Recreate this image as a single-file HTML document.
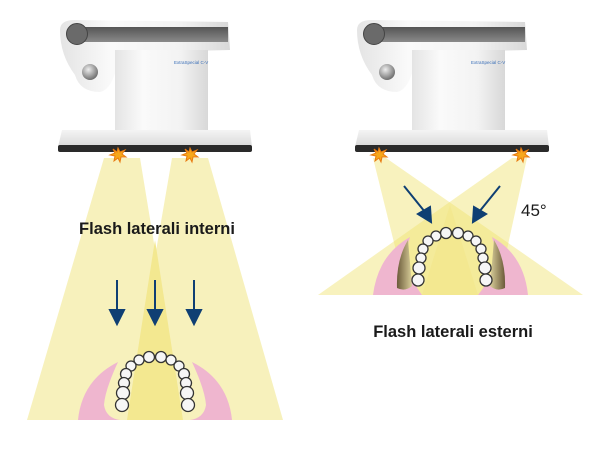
<!DOCTYPE html>
<html><head><meta charset="utf-8"><style>
body{margin:0;background:#fff;width:605px;height:469px;overflow:hidden}
svg{display:block}
text{font-family:"Liberation Sans",Arial,sans-serif}
</style></head><body>
<svg width="605" height="469" viewBox="0 0 605 469" xmlns="http://www.w3.org/2000/svg">
<defs>
<linearGradient id="bod" x1="0" x2="1"><stop offset="0" stop-color="#e4e4e4"/><stop offset=".3" stop-color="#fafafa"/><stop offset=".7" stop-color="#f3f3f3"/><stop offset="1" stop-color="#d8d8d8"/></linearGradient>
<linearGradient id="bar" x1="0" y1="0" x2="0" y2="1"><stop offset="0" stop-color="#555"/><stop offset="1" stop-color="#8a8a8a"/></linearGradient>
<linearGradient id="base" x1="0" y1="0" x2="0" y2="1"><stop offset="0" stop-color="#f4f4f4"/><stop offset="1" stop-color="#d9d9d9"/></linearGradient>
<radialGradient id="ball" cx=".4" cy=".35" r=".7"><stop offset="0" stop-color="#eee"/><stop offset="1" stop-color="#666"/></radialGradient>
<linearGradient id="brL" x1="0" x2="1"><stop offset="0" stop-color="#6b5a3a"/><stop offset="1" stop-color="#d9cf9a"/></linearGradient>
<linearGradient id="brR" x1="1" x2="0"><stop offset="0" stop-color="#6b5a3a"/><stop offset="1" stop-color="#d9cf9a"/></linearGradient>
<g id="dev">
<path d="M60,30 Q60,20 75,20 L228,22 L230,50 L148,52 Q138,52 138,62 L118,62 Q112,90 100,92 Q80,92 75,75 Q60,55 60,30Z" fill="url(#bod)"/>
<rect x="115" y="50" width="93" height="82" fill="url(#bod)"/>
<rect x="80" y="27" width="148" height="15" fill="url(#bar)"/>
<circle cx="77" cy="34" r="10.5" fill="#6a6a6a" stroke="#444"/>
<circle cx="90" cy="72" r="8" fill="url(#ball)"/>
<text x="174" y="64" font-size="4.5" fill="#3a6fb8">ExtraSpecial C-V</text>
<path d="M62,130 L250,130 L252,147 L58,147 Z" fill="url(#base)"/>
<rect x="58" y="145" width="194" height="7" rx="2" fill="#2a2a2a"/>
</g>
<g id="tooth"><circle r="6" fill="#f4f4f4" stroke="#333" stroke-width="1.3"/></g>
</defs>

<!-- LEFT beams -->
<polygon points="104,158 140,158 183,420 27,420" fill="#f7f1bc"/>
<polygon points="172,158 208,158 283,420 127,420" fill="#f7f1bc"/>
<!-- pink left -->
<path d="M78,420 Q82,380 118,362 Q105,390 104,405 Q106,418 120,420Z" fill="#efb6cf"/>
<path d="M232,420 Q228,380 192,362 Q205,390 206,405 Q204,418 190,420Z" fill="#efb6cf"/>
<polygon points="155,240 183,420 127,420" fill="#f3e890"/>
<!-- left teeth -->
<g fill="#f6f6f6" stroke="#333" stroke-width="1.3">
<circle cx="149" cy="357" r="5.5"/><circle cx="161" cy="357" r="5.5"/>
<circle cx="139" cy="360" r="5"/><circle cx="171" cy="360" r="5"/>
<circle cx="131" cy="366" r="5"/><circle cx="179" cy="366" r="5"/>
<circle cx="126" cy="374" r="5.5"/><circle cx="184" cy="374" r="5.5"/>
<circle cx="124" cy="383" r="5.5"/><circle cx="186" cy="383" r="5.5"/>
<circle cx="123" cy="393" r="6.5"/><circle cx="187" cy="393" r="6.5"/>
<circle cx="122" cy="405" r="6.5"/><circle cx="188" cy="405" r="6.5"/>
</g>
<!-- left arrows -->
<g stroke="#0f3f73" stroke-width="2" fill="#0f3f73">
<line x1="117" y1="280" x2="117" y2="315"/><polygon points="110,310 124,310 117,324"/>
<line x1="155" y1="280" x2="155" y2="315"/><polygon points="148,310 162,310 155,324"/>
<line x1="194" y1="280" x2="194" y2="315"/><polygon points="187,310 201,310 194,324"/>
</g>

<!-- RIGHT beams -->
<polygon points="373,158 386,158 583,295 407,295" fill="#f0e26f" opacity=".45"/>
<polygon points="512,158 527,158 497,295 318,295" fill="#f0e26f" opacity=".45"/>
<path d="M373,295 Q378,255 410,237 Q400,265 422,295Z" fill="#efb6cf"/>
<path d="M528,295 Q524,255 492,237 Q502,265 478,295Z" fill="#efb6cf"/>
<path d="M408,240 Q396,260 397,288 Q405,292 412,286 Z" fill="url(#brL)"/>
<path d="M494,240 Q506,260 505,288 Q497,292 490,286 Z" fill="url(#brR)"/>
<polygon points="450,205 478,295 422,295" fill="#f3e890"/>
<g fill="#f6f6f6" stroke="#333" stroke-width="1.3">
<circle cx="446" cy="233" r="5.5"/><circle cx="458" cy="233" r="5.5"/>
<circle cx="436" cy="236" r="5"/><circle cx="468" cy="236" r="5"/>
<circle cx="428" cy="241" r="5"/><circle cx="476" cy="241" r="5"/>
<circle cx="423" cy="249" r="5"/><circle cx="481" cy="249" r="5"/>
<circle cx="421" cy="258" r="5"/><circle cx="483" cy="258" r="5"/>
<circle cx="419" cy="268" r="6"/><circle cx="485" cy="268" r="6"/>
<circle cx="418" cy="280" r="6"/><circle cx="486" cy="280" r="6"/>
</g>
<g stroke="#0f3f73" stroke-width="2" fill="#0f3f73">
<line x1="404" y1="186" x2="425" y2="212"/><polygon points="418,214 430,207 431,222"/>
<line x1="500" y1="186" x2="479" y2="212"/><polygon points="486,214 474,207 473,222"/>
</g>

<!-- devices -->
<use href="#dev"/>
<use href="#dev" x="297"/>
<!-- flashes -->
<g fill="#f7a81b" stroke="#e87a10" stroke-width="1">
<polygon points="118,148 120,152 125,150 122,154 126,157 121,157 120,162 118,158 114,161 115,156 110,155 115,153 113,149 117,152"/>
<polygon points="190,148 192,152 197,150 194,154 198,157 193,157 192,162 190,158 186,161 187,156 182,155 187,153 185,149 189,152"/>
<polygon points="379,148 381,152 386,150 383,154 387,157 382,157 381,162 379,158 375,161 376,156 371,155 376,153 374,149 378,152"/>
<polygon points="521,148 523,152 528,150 525,154 529,157 524,157 523,162 521,158 517,161 518,156 513,155 518,153 516,149 520,152"/>
</g>

<text x="157" y="234" font-size="16.5" font-weight="bold" text-anchor="middle" fill="#1a1a1a">Flash laterali interni</text>
<text x="453" y="337" font-size="16.5" font-weight="bold" text-anchor="middle" fill="#1a1a1a">Flash laterali esterni</text>
<text x="521" y="216" font-size="17" fill="#1a1a1a">45°</text>
</svg>
</body></html>
